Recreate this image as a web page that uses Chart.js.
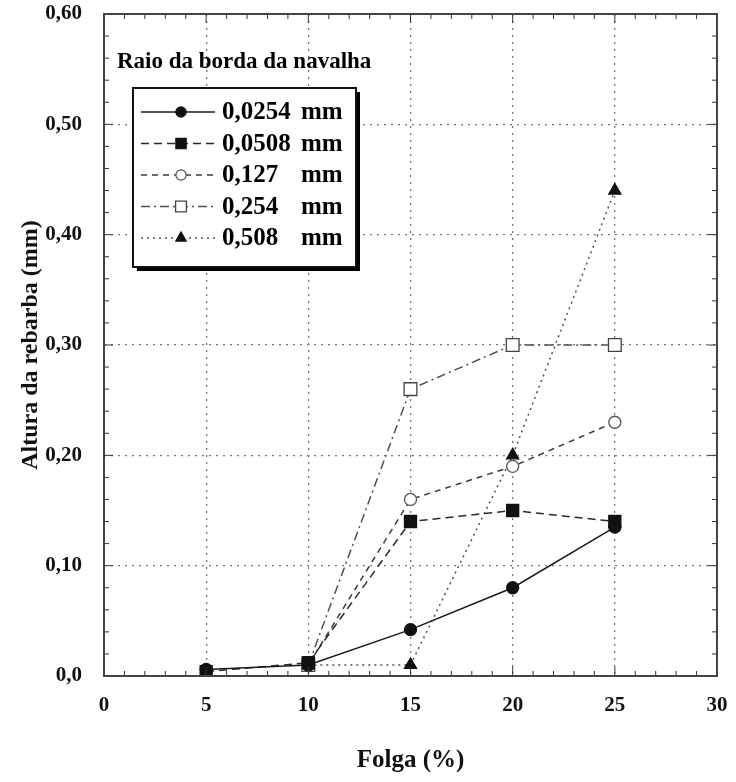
<!DOCTYPE html>
<html>
<head>
<meta charset="utf-8">
<script src="https://cdn.jsdelivr.net/npm/chart.js@4.4.1/dist/chart.umd.min.js"></script>
<style>
  body { margin: 0; background: #fff; }
  #wrap { width: 736px; height: 782px; }
</style>
</head>
<body>
<div id="wrap"><canvas id="grafico"></canvas></div>
<script>
// dados
var folga = [5, 10, 15, 20, 25];
var r0254 = [0.006, 0.010, 0.042, 0.080, 0.135];
var r0508 = [0.004, 0.012, 0.140, 0.150, 0.140];
var r127 = [null, 0.010, 0.160, 0.190, 0.230];
var r254 = [null, 0.010, 0.260, 0.300, 0.300];
var r508 = [null, 0.010, 0.010, 0.200, 0.440];
var rotulos = ['0,0254 mm', '0,0508 mm', '0,127 mm', '0,254 mm', '0,508 mm'];
var tituloLegenda = 'Raio da borda da navalha';

var serif = "'Liberation Serif', 'DejaVu Serif', serif";

function pontos(valores) {
  var out = [];
  valores.forEach(function(v, i) {
    if (v !== null) out.push({ x: folga[i], y: v });
  });
  return out;
}

function serie(label, valores, estilo) {
  return Object.assign({
    label: label,
    data: pontos(valores),
    borderWidth: 1.5,
    pointRadius: 6,
    pointBorderWidth: 1.3,
    fill: false,
    tension: 0
  }, estilo);
}

var datasets = [
  serie(rotulos[0], r0254, { borderColor: '#1a1a1a', pointStyle: 'circle', pointBackgroundColor: '#111', pointBorderColor: '#111' }),
  serie(rotulos[1], r0508, { borderColor: '#2a2a2a', borderDash: [8, 5], pointStyle: 'rect', pointRadius: 8.5, pointBackgroundColor: '#111', pointBorderColor: '#111' }),
  serie(rotulos[2], r127, { borderColor: '#3a3a3a', borderDash: [6, 5], pointStyle: 'circle', pointBackgroundColor: '#fff', pointBorderColor: '#555' }),
  serie(rotulos[3], r254, { borderColor: '#505050', borderDash: [9, 4, 2, 4], pointStyle: 'rect', pointRadius: 9, pointBackgroundColor: '#fff', pointBorderColor: '#444' }),
  serie(rotulos[4], r508, { borderColor: '#505050', borderDash: [2, 4], pointStyle: 'triangle', pointRadius: 7, pointBackgroundColor: '#111', pointBorderColor: '#111' })
];

/**
* Moldura do grafico e tracinhos menores nos quatro lados.
**/
var moldura = {
  id: 'moldura',
  afterDatasetsDraw(chart) {
    var ctx = chart.ctx, a = chart.chartArea;
    var sx = chart.scales.x, sy = chart.scales.y;
    ctx.save();
    ctx.strokeStyle = '#333';
    ctx.lineWidth = 1;
    ctx.setLineDash([]);
    var i, px, py, len;
    for (i = 0; i <= 30; i++) {
      px = sx.getPixelForValue(i);
      len = (i % 5 === 0) ? 9 : 5;
      ctx.beginPath();
      ctx.moveTo(px, a.bottom); ctx.lineTo(px, a.bottom - len);
      ctx.moveTo(px, a.top); ctx.lineTo(px, a.top + len);
      ctx.stroke();
    }
    for (i = 0; i <= 30; i++) {
      py = sy.getPixelForValue(i * 0.02);
      len = (i % 5 === 0) ? 9 : 5;
      ctx.beginPath();
      ctx.moveTo(a.left, py); ctx.lineTo(a.left + len, py);
      ctx.moveTo(a.right, py); ctx.lineTo(a.right - len, py);
      ctx.stroke();
    }
    ctx.lineWidth = 2;
    ctx.strokeStyle = '#444';
    ctx.strokeRect(a.left, a.top, a.right - a.left, a.bottom - a.top);
    ctx.restore();
  }
};

/**
* Legenda dentro da area do grafico, com titulo e sombra.
**/
var legendaCaixa = {
  id: 'legendaCaixa',
  afterDraw(chart) {
    var ctx = chart.ctx, a = chart.chartArea;
    var bx = a.left + 29, by = a.top + 74, bw = 223, bh = 179;
    ctx.save();
    ctx.fillStyle = '#000';
    ctx.font = 'bold 23px ' + serif;
    ctx.textBaseline = 'middle';
    ctx.fillText(tituloLegenda, a.left + 13, a.top + 48);

    // sombra
    ctx.fillRect(bx + 4, by + 4, bw, bh);
    ctx.fillStyle = '#fff';
    ctx.fillRect(bx, by, bw, bh);
    ctx.lineWidth = 2;
    ctx.strokeStyle = '#111';
    ctx.strokeRect(bx, by, bw, bh);

    chart.data.datasets.forEach(function(ds, i) {
      var ry = by + 24 + i * 31.5;
      ctx.strokeStyle = ds.borderColor;
      ctx.lineWidth = ds.borderWidth;
      ctx.setLineDash(ds.borderDash || []);
      ctx.beginPath();
      ctx.moveTo(bx + 8, ry); ctx.lineTo(bx + 82, ry);
      ctx.stroke();
      ctx.setLineDash([]);
      ctx.fillStyle = ds.pointBackgroundColor;
      ctx.strokeStyle = ds.pointBorderColor;
      ctx.lineWidth = ds.pointBorderWidth;
      Chart.helpers.drawPoint(ctx, { pointStyle: ds.pointStyle, radius: ds.pointRadius * 0.85, rotation: 0, borderWidth: ds.pointBorderWidth }, bx + 48, ry);
      var partes = ds.label.split(' ');
      ctx.fillStyle = '#000';
      ctx.font = 'bold 25px ' + serif;
      ctx.fillText(partes[0], bx + 89, ry + 1);
      ctx.fillText(partes[1], bx + 168, ry + 1);
    });
    ctx.restore();
  }
};

function gradeCor(ctx) {
  var t = ctx.tick;
  if (!t) return 'transparent';
  if (t.value === 0 || Math.abs(t.value - 30) < 1e-6 || Math.abs(t.value - 0.6) < 1e-6) return 'transparent';
  return '#777';
}

// sem margem extra para os rotulos das pontas
function semMargem(scale) {
  scale.paddingTop = 0;
  scale.paddingBottom = 0;
  scale.paddingLeft = 0;
  scale.paddingRight = 0;
}

new Chart(document.getElementById('grafico'), {
  type: 'line',
  data: { datasets: datasets },
  plugins: [moldura, legendaCaixa],
  options: {
    responsive: true,
    maintainAspectRatio: false,
    animation: false,
    layout: { padding: { top: 14, right: 19, left: 0, bottom: 0 } },
    plugins: { legend: { display: false }, tooltip: { enabled: false } },
    scales: {
      x: {
        type: 'linear',
        min: 0, max: 30,
        afterFit(scale) { semMargem(scale); scale.height = 106; },
        ticks: {
          stepSize: 5,
          padding: 17,
          color: '#111',
          font: { family: serif, size: 21, weight: 'bold' }
        },
        grid: { color: gradeCor, lineWidth: 1.3, drawTicks: false },
        border: { display: false, dash: [2, 5] },
        title: {
          display: true,
          text: 'Folga (%)',
          color: '#111',
          font: { family: serif, size: 25, weight: 'bold' },
          padding: { top: 0, bottom: 6 }
        }
      },
      y: {
        min: 0, max: 0.6,
        afterFit(scale) { semMargem(scale); scale.width = 104; },
        ticks: {
          stepSize: 0.1,
          padding: 22,
          color: '#111',
          font: { family: serif, size: 21, weight: 'bold' },
          callback: function(v) {
            if (Math.abs(v) < 1e-9) return '0,0';
            return v.toFixed(2).replace('.', ',');
          }
        },
        grid: { color: gradeCor, lineWidth: 1.3, drawTicks: false },
        border: { display: false, dash: [2, 5] },
        title: {
          display: true,
          text: 'Altura da rebarba (mm)',
          color: '#111',
          font: { family: serif, size: 24, weight: 'bold' },
          padding: { top: 16, bottom: 0 }
        }
      }
    }
  }
});
</script>
</body>
</html>
